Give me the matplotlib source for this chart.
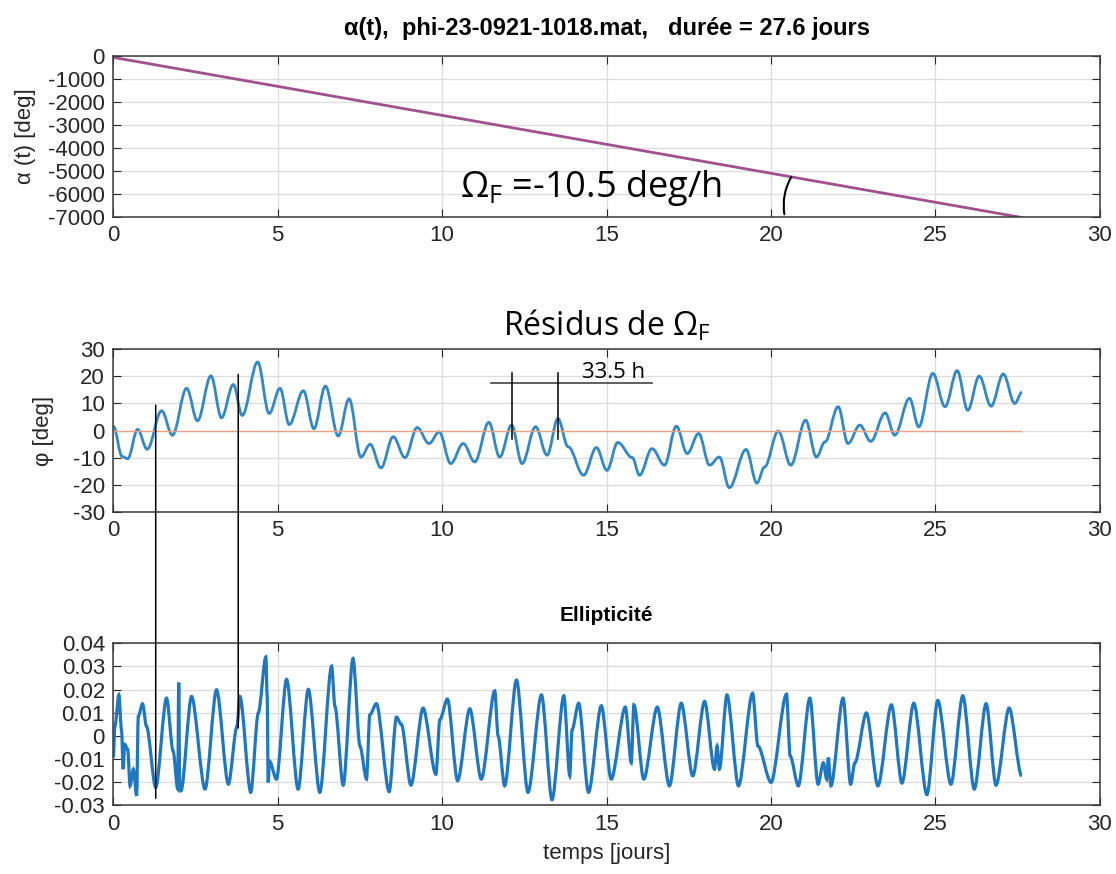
import numpy as np
import matplotlib.pyplot as plt
from matplotlib.path import Path
from matplotlib.patches import PathPatch, ConnectionPatch

plt.rcParams['font.family'] = ['Liberation Sans', 'DejaVu Sans']
plt.rcParams['axes.unicode_minus'] = False
plt.rcParams['mathtext.fontset'] = 'custom'
plt.rcParams['mathtext.rm'] = 'Open Sans'

# derive rate (deg/h) and duration (days)
OMEGA_F = -10.5
DUREE = 27.6
alpha0 = -60.0
t_alpha = [0.0, DUREE]

# phi residuals: extrema read from the record (t in days, phi in deg)
t_phi = [0.00, 0.27, 0.44, 0.74, 1.03, 1.47, 1.80, 2.23, 2.56, 2.97,
         3.29, 3.65, 3.92, 4.39, 4.74, 5.07, 5.35, 5.78, 6.10, 6.45,
         6.84, 7.17, 7.53, 7.81, 8.14, 8.51, 8.87, 9.24, 9.60, 9.91,
         10.26, 10.64, 10.99, 11.42, 11.75, 12.11, 12.43, 12.84, 13.19, 13.52,
         13.83, 14.30, 14.69, 15.01, 15.34, 15.78, 16.00, 16.38, 16.76, 17.12,
         17.45, 17.80, 18.13, 18.43, 18.73, 19.24, 19.57, 19.80, 20.22, 20.60,
         21.05, 21.38, 21.64, 22.04, 22.34, 22.70, 23.03, 23.47, 23.76, 24.21,
         24.49, 24.92, 25.29, 25.66, 25.98, 26.33, 26.69, 27.06, 27.41, 27.63]
phi = [1.6, -9.6, -10.4, 0.4, -6.9, 7.3, -1.7, 15.6, 3.6, 20.2,
       4.7, 17.0, 5.6, 25.3, 6.3, 15.6, 2.2, 14.7, 0.7, 16.4,
       -2.0, 11.7, -9.8, -5.1, -13.8, -2.3, -10.0, 1.1, -4.8, -0.5,
       -12.2, -4.8, -11.6, 3.0, -9.8, 2.0, -12.2, 1.4, -9.1, 4.4,
       -6.0, -16.5, -6.3, -14.7, -4.4, -10.0, -16.5, -6.7, -12.8, 1.6,
       -8.5, -1.1, -12.8, -9.8, -21.1, -7.0, -19.4, -13.5, -0.2, -12.8,
       3.8, -9.8, -4.2, 8.8, -4.8, 2.0, -4.0, 6.5, -1.7, 11.9,
       1.4, 21.1, 8.8, 22.1, 7.5, 20.1, 9.0, 20.9, 10.0, 14.1]

# ellipticity
t_ell = [0.00, 0.05, 0.17, 0.25, 0.30, 0.35, 0.44, 0.51, 0.61, 0.71,
         0.76, 0.89, 1.01, 1.29, 1.62, 1.82, 1.96, 1.99, 2.02, 2.06,
         2.38, 2.79, 3.14, 3.50, 3.76, 3.85, 4.18, 4.41, 4.64, 4.68,
         4.71, 4.75, 4.96, 5.27, 5.62, 5.93, 6.28, 6.64, 6.74, 6.99,
         7.29, 7.50, 7.70, 7.80, 8.00, 8.39, 8.61, 8.76, 9.05, 9.42,
         9.81, 9.93, 10.16, 10.47, 10.84, 11.19, 11.60, 11.70, 11.90, 12.26,
         12.61, 13.02, 13.34, 13.70, 13.88, 13.95, 14.15, 14.45, 14.84, 15.14,
         15.57, 15.75, 15.83, 16.13, 16.54, 16.91, 17.27, 17.62, 17.98, 18.28,
         18.36, 18.43, 18.66, 19.01, 19.44, 19.60, 20.00, 20.47, 20.58, 20.83,
         21.18, 21.43, 21.59, 21.69, 21.74, 21.82, 22.19, 22.42, 22.55, 22.90,
         23.25, 23.66, 23.98, 24.34, 24.74, 25.07, 25.47, 25.83, 26.18, 26.54,
         26.84, 27.24, 27.62]
ell = [-0.0094, 0.0041, 0.0177, 0.0027, -0.0144, -0.0037, -0.0059, -0.0216, -0.0144, -0.0259,
       0.0084, 0.0139, 0.0041, -0.0223, 0.0163, -0.0066, -0.0230, 0.0230, -0.0216, -0.0237,
       0.0170, -0.0230, 0.0199, -0.0209, 0.0040, 0.0170, -0.0244, 0.0099, 0.0341, 0.0170,
       -0.0201, -0.0109, -0.0187, 0.0244, -0.0230, 0.0201, -0.0244, 0.0301, 0.0127, -0.0213,
       0.0334, -0.0044, -0.0187, 0.0091, 0.0139, -0.0241, 0.0081, 0.0049, -0.0213, 0.0120,
       -0.0166, 0.0070, 0.0159, -0.0194, 0.0117, -0.0187, 0.0194, 0.0000, -0.0216, 0.0241,
       -0.0244, 0.0177, -0.0276, 0.0173, -0.0173, 0.0027, 0.0141, -0.0244, 0.0130, -0.0187,
       0.0124, -0.0116, 0.0134, -0.0187, 0.0124, -0.0216, 0.0141, -0.0173, 0.0149, -0.0144,
       -0.0044, -0.0144, 0.0177, -0.0216, 0.0184, -0.0044, -0.0201, 0.0180, -0.0087, -0.0216,
       0.0163, -0.0209, -0.0116, -0.0187, -0.0094, -0.0216, 0.0163, -0.0209, -0.0116, 0.0099,
       -0.0216, 0.0134, -0.0204, 0.0141, -0.0254, 0.0153, -0.0209, 0.0173, -0.0230, 0.0139,
       -0.0213, 0.0120, -0.0173]

xticks = [0, 5, 10, 15, 20, 25, 30]
yticks_alpha = [0, -1000, -2000, -3000, -4000, -5000, -6000, -7000]
yticks_phi = [30, 20, 10, 0, -10, -20, -30]
yticks_ell = [0.04, 0.03, 0.02, 0.01, 0, -0.01, -0.02, -0.03]
ylabels_ell = ['0.04', '0.03', '0.02', '0.01', '0', '-0.01', '-0.02', '-0.03']


def smooth_path(t, y, k=0.36):
    # cubic segments with flat tangents at every extremum
    verts = [(t[0], y[0])]
    codes = [Path.MOVETO]
    for i in range(len(t) - 1):
        dt = t[i + 1] - t[i]
        verts += [(t[i] + k * dt, y[i]), (t[i + 1] - k * dt, y[i + 1]),
                  (t[i + 1], y[i + 1])]
        codes += [Path.CURVE4] * 3
    return Path(verts, codes)


def style(ax):
    ax.set_xlim(0, 30)
    ax.set_xticks(xticks)
    ax.grid(True, color='#dcdcdc', lw=0.9)
    ax.set_axisbelow(True)
    ax.tick_params(direction='in', top=True, right=True, length=6,
                   labelsize=16, colors='#262626', pad=6)
    for s in ax.spines.values():
        s.set_color('#3a3a3a')
        s.set_linewidth(1.1)


fig = plt.figure(figsize=(11.16, 8.74), dpi=100)
ax1 = fig.add_axes([0.1015, 0.7517, 0.8841, 0.1842])
ax2 = fig.add_axes([0.1015, 0.4145, 0.8841, 0.1858])
ax3 = fig.add_axes([0.1015, 0.0786, 0.8841, 0.1854])

# alpha(t)
a_end = alpha0 + OMEGA_F * 24 * DUREE
ax1.plot(t_alpha, [alpha0, a_end], color='#a0528e', lw=2)
style(ax1)
ax1.set_ylim(-7000, 0)
ax1.set_yticks(yticks_alpha)
ax1.set_ylabel('α (t) [deg]', fontsize=16, color='#262626')
ax1.yaxis.set_label_coords(-0.078, 0.5)
ax1.set_title('α(t),  phi-23-0921-1018.mat,   durée = 27.6 jours',
              fontsize=17, fontweight='bold', pad=15)
ax1.text(10.55, -5750, 'Ω$_\\mathregular{F}$ =-10.5 deg/h', fontsize=26,
         family='Open Sans', va='center', ha='left')
ax1.annotate('', xy=(20.66, -5150), xytext=(20.42, -7000),
             arrowprops=dict(arrowstyle='-', color='black', lw=1.5,
                             connectionstyle='arc3,rad=-0.2'),
             annotation_clip=False)

# phi residuals
ax2.add_patch(PathPatch(smooth_path(t_phi, phi), fill=False,
                        edgecolor='#3388c4', lw=2.0))
ax2.plot([0, DUREE], [0, 0], color='#e8a386', lw=1.0, zorder=1.5)
style(ax2)
ax2.set_ylim(-30, 30)
ax2.set_yticks(yticks_phi)
ax2.set_ylabel('φ [deg]', fontsize=16, color='#262626')
ax2.yaxis.set_label_coords(-0.06, 0.5)
ax2.set_title('Résidus de Ω$_\\mathregular{F}$', fontsize=23,
              family='Open Sans', pad=10)

# 33.5 h period marker
ax2.plot([11.48, 16.39], [17.7, 17.7], color='#444444', lw=1.2)
ax2.plot([12.11, 12.11], [21.1, -3.3], color='black', lw=1.1)
ax2.plot([13.52, 13.52], [21.1, -3.3], color='black', lw=1.1)
ax2.text(14.26, 19.3, '33.5 h', fontsize=16, family='Open Sans',
         ha='left', va='baseline')

# ellipticity
ax3.add_patch(PathPatch(smooth_path(t_ell, ell, k=0.3), fill=False,
                        edgecolor='#1f77c0', lw=2.3))
style(ax3)
ax3.set_ylim(-0.03, 0.04)
ax3.set_yticks(yticks_ell)
ax3.set_yticklabels(ylabels_ell)
ax3.set_title('Ellipticité', fontsize=15, fontweight='bold', pad=16)
ax3.set_xlabel('temps [jours]', fontsize=16, color='#262626', labelpad=6)

# vertical markers running from phi down to ellipticity
for t0, y_top, y_bot in [(1.29, 9.4, -0.027), (3.80, 20.7, 0.0034)]:
    con = ConnectionPatch(xyA=(t0, y_top), coordsA=ax2.transData,
                          xyB=(t0, y_bot), coordsB=ax3.transData,
                          color='black', lw=1.1)
    fig.add_artist(con)

fig.savefig('out.png', dpi=100)
